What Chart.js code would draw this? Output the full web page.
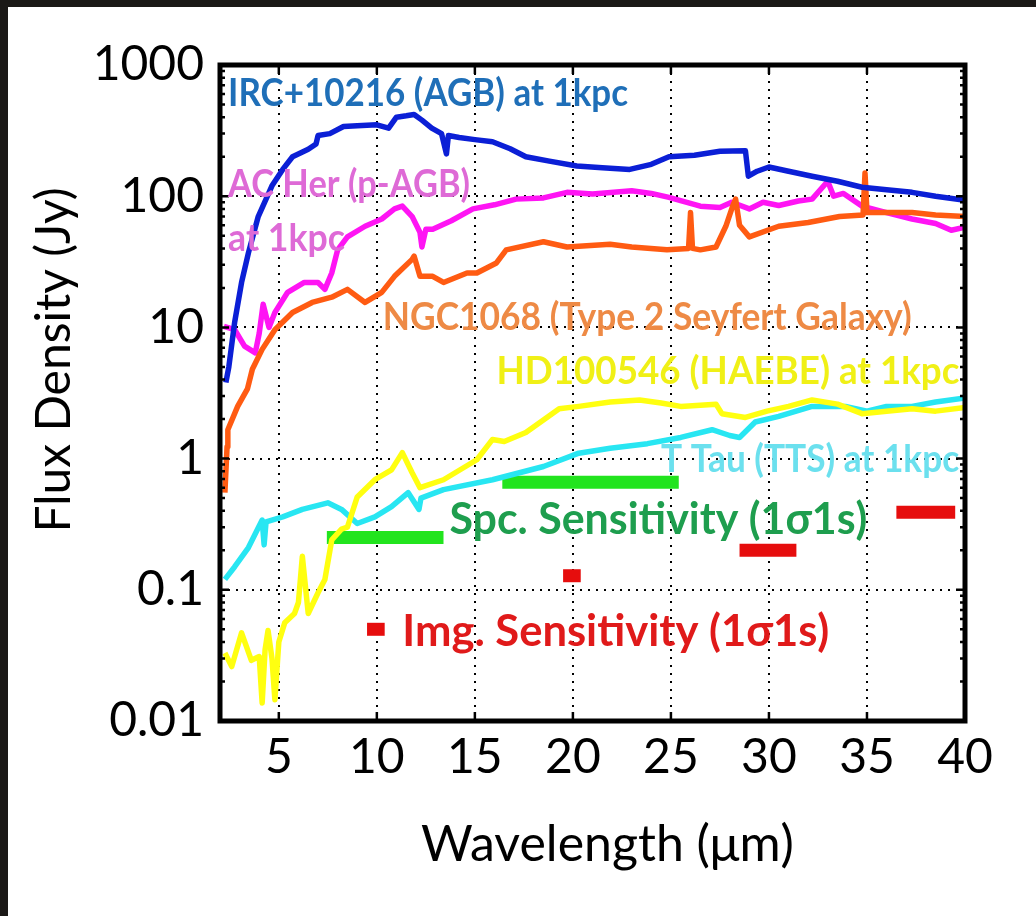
<!DOCTYPE html>
<html lang="en">
<head>
    <meta charset="UTF-8">
    <title>Flux density vs wavelength</title>
    <script src="https://cdn.jsdelivr.net/npm/chart.js"></script>
    <style>
        html, body { margin: 0; padding: 0; background: #ffffff; overflow: hidden; }
        canvas { display: block; }
    </style>
</head>
<body>
    <canvas id="fluxChart" width="1036" height="916"></canvas>

    <script>
        // --- data (wavelength in um, flux in Jy) ---
        const xTicks = [5, 10, 15, 20, 25, 30, 35, 40];
        const yTicks = [0.01, 0.1, 1, 10, 100, 1000];
        const yTickLabels = ['0.01', '0.1', '1', '10', '100', '1000'];

        const ircWave = [2.3, 2.45, 2.75, 3.1, 3.45, 3.95, 4.65, 5.2, 5.7, 6.5, 6.9, 7.0, 7.6, 8.3, 9.0, 10.0, 10.6, 11.0, 11.5, 11.9, 12.3, 12.8, 13.3, 13.55, 13.65, 14.2, 15.0, 15.9, 16.8, 17.6, 18.8, 20.2, 21.5, 22.9, 24.0, 24.9, 26.2, 27.5, 28.8, 28.95, 29.4, 30.0, 31.0, 32.2, 33.5, 34.75, 36.0, 37.3, 38.5, 40];
        const ircFlux = [3.8, 5, 11, 22, 37, 70, 120, 160, 200, 228, 250, 290, 300, 340, 345, 350, 330, 400, 410, 420, 380, 330, 300, 210, 290, 280, 270, 260, 230, 200, 185, 170, 165, 160, 175, 200, 205, 220, 222, 142, 155, 167, 155, 142, 130, 117, 112, 107, 100, 93];

        const acherWave = [2.2, 2.75, 3.25, 3.8, 4.0, 4.2, 4.5, 4.8, 5.45, 6.3, 7.0, 7.35, 7.7, 8.0, 8.5, 9.4, 10.25, 10.9, 11.3, 11.8, 12.2, 12.3, 12.5, 12.85, 13.8, 14.9, 16.0, 17.1, 18.5, 19.7, 21.0, 23.0, 24.0, 24.9, 26.5, 27.5, 28.1, 29.0, 29.7, 30.5, 31.5, 32.2, 33.0, 33.3, 33.8, 34.75, 36.0, 37.3, 38.5, 39.3, 40];
        const acherFlux = [10.2, 9.6, 7.2, 6.4, 9, 15, 10, 13, 18.5, 22, 22, 19.5, 26, 39, 49, 59, 67, 80, 84, 70, 53, 41, 56, 56, 65, 80, 86, 95, 97, 107, 104, 110, 105, 98, 84, 82, 90, 80, 90, 85, 92, 95, 130, 100, 105, 84, 75, 67, 62, 55, 58];

        const ngcWave = [2.25, 2.36, 2.4, 2.9, 3.4, 3.65, 4.15, 4.8, 5.7, 6.7, 7.7, 8.5, 9.4, 10.25, 10.9, 11.8, 11.9, 12.2, 12.85, 13.4, 14.6, 15.1, 16.1, 16.6, 18.5, 19.7, 21.9, 23.0, 24.8, 25.9, 26.0, 26.1, 26.5, 27.3, 27.8, 28.15, 28.3, 28.5, 29.0, 30.5, 32.0, 33.6, 34.8, 34.9, 35.0, 36.0, 37.3, 38.5, 40];
        const ngcFlux = [0.55, 1.23, 1.66, 2.5, 3.4, 4.8, 6.8, 9.6, 13, 15.5, 17, 19.5, 15.5, 18.5, 24.5, 33, 35, 24.5, 24.5, 22, 26, 26, 31, 39, 45, 41, 43, 41, 39, 40, 75, 40, 39, 41, 59, 84, 95, 60, 49, 59, 63, 70, 72, 150, 75, 75, 75, 72, 70];

        const hdWave = [2.25, 2.6, 3.1, 3.6, 4.0, 4.15, 4.3, 4.45, 4.65, 4.8, 5.0, 5.3, 5.8, 6.0, 6.2, 6.5, 7.0, 7.35, 7.7, 8.2, 8.5, 9.0, 9.9, 10.75, 11.3, 11.8, 12.2, 13.4, 15.1, 15.9, 16.5, 17.6, 19.3, 20.3, 21.9, 23.4, 24.5, 25.5, 27.3, 27.6, 28.8, 29.9, 31.0, 32.2, 33.5, 34.75, 36.0, 37.3, 38.5, 40];
        const hdFlux = [0.033, 0.026, 0.047, 0.029, 0.031, 0.0137, 0.035, 0.049, 0.03, 0.0145, 0.04, 0.056, 0.066, 0.08, 0.18, 0.066, 0.095, 0.12, 0.24, 0.29, 0.30, 0.51, 0.69, 0.82, 1.11, 0.78, 0.6, 0.69, 0.98, 1.4, 1.35, 1.58, 2.4, 2.5, 2.7, 2.8, 2.65, 2.5, 2.6, 2.2, 2.06, 2.3, 2.5, 2.8, 2.6, 2.2, 2.3, 2.4, 2.3, 2.45];

        const ttauWave = [2.25, 2.75, 3.45, 4.15, 4.25, 4.35, 5.2, 6.2, 7.5, 8.2, 9.0, 9.9, 10.75, 11.6, 12.15, 12.25, 13.4, 15.9, 18.5, 20.3, 21.9, 23.8, 25.5, 27.1, 28.0, 28.5, 29.3, 30.5, 32.2, 33.9, 35.0, 36.0, 37.3, 38.5, 40];
        const ttauFlux = [0.12, 0.15, 0.21, 0.34, 0.22, 0.33, 0.36, 0.41, 0.46, 0.41, 0.32, 0.36, 0.43, 0.55, 0.41, 0.5, 0.58, 0.69, 0.87, 1.1, 1.2, 1.3, 1.45, 1.66, 1.5, 1.45, 1.9, 2.1, 2.5, 2.5, 2.3, 2.5, 2.5, 2.7, 2.9];

        // sensitivity bars: start / end wavelength and flux level
        const spcStart = [7.45, 16.4];
        const spcEnd = [13.4, 25.4];
        const spcFlux = [0.25, 0.66];
        const imgStart = [9.5, 19.5, 28.5, 36.5];
        const imgEnd = [10.4, 20.4, 31.4, 39.5];
        const imgFlux = [0.05, 0.128, 0.2, 0.39];

        // text labels inside the plot (anchored in data units, left edge / middle)
        const notes = [
            { text: 'IRC+10216 (AGB) at 1kpc', x: 2.41, y: 600, w: 400, color: '#1f6fb8', size: 38 },
            { text: 'AC Her (p-AGB)', x: 2.41, y: 122, w: 242, color: '#de6ad6', size: 38 },
            { text: 'at 1kpc', x: 2.41, y: 47, w: 117, color: '#de6ad6', size: 38 },
            { text: 'NGC1068 (Type 2 Seyfert Galaxy)', x: 10.3, y: 11.9, w: 529, color: '#ee8a45', size: 38 },
            { text: 'HD100546 (HAEBE) at 1kpc', x: 16.1, y: 4.6, w: 463, color: '#f0f016', size: 38 },
            { text: 'T Tau (TTS) at 1kpc', x: 24.5, y: 0.98, w: 298, color: '#6be0ee', size: 38 },
            { text: 'Spc. Sensitivity (1σ1s)', x: 13.7, y: 0.34, w: 418, color: '#1e9e4e', size: 44 },
            { text: 'Img. Sensitivity (1σ1s)', x: 11.3, y: 0.048, w: 427, color: '#e01a1a', size: 44 }
        ];

        function pairs(xs, ys) {
            return xs.map((x, i) => ({ x: x, y: ys[i] }));
        }

        function spectrum(data, color) {
            return {
                data: data,
                borderColor: color,
                borderWidth: 5.5,
                borderJoinStyle: 'round',
                pointRadius: 0,
                tension: 0,
                fill: false
            };
        }

        function bar(x0, x1, y, color) {
            return {
                data: [{ x: x0, y: y }, { x: x1, y: y }],
                borderColor: color,
                borderWidth: 13,
                borderCapStyle: 'butt',
                pointRadius: 0,
                fill: false
            };
        }

        const datasets = [
            spectrum(pairs(ircWave, ircFlux), '#0b1fd6'),
            spectrum(pairs(ngcWave, ngcFlux), '#ff5b12'),
            spectrum(pairs(acherWave, acherFlux), '#ff14f4'),
            spectrum(pairs(hdWave, hdFlux), '#ffff10'),
            spectrum(pairs(ttauWave, ttauFlux), '#28e6f2')
        ];
        spcStart.forEach((s, i) => datasets.push(bar(s, spcEnd[i], spcFlux[i], '#22e41e')));
        imgStart.forEach((s, i) => datasets.push(bar(s, imgEnd[i], imgFlux[i], '#e60d0d')));

        const fontFamily = 'Lato, "Open Sans", sans-serif';

        // white sheet with the dark photo edge along the top and left
        function sheet(ctx, w, h) {
            ctx.fillStyle = '#1b1917';
            ctx.fillRect(0, 0, w, 7);
            ctx.fillRect(0, 0, 8, h);
        }

        const panel = {
            id: 'panel',
            beforeDraw(chart) {
                const ctx = chart.ctx;
                ctx.save();
                ctx.fillStyle = '#ffffff';
                ctx.fillRect(0, 0, chart.width, chart.height);
                sheet(ctx, chart.width, chart.height);
                ctx.restore();
            }
        };

        const frame = {
            id: 'frame',
            afterDatasetsDraw(chart) {
                const ctx = chart.ctx;
                const a = chart.chartArea;
                const xs = chart.scales.x;
                const ys = chart.scales.y;
                ctx.save();
                ctx.strokeStyle = '#000';
                ctx.lineWidth = 2.5;
                ctx.beginPath();
                xTicks.forEach(v => {
                    const px = xs.getPixelForValue(v);
                    ctx.moveTo(px, a.bottom); ctx.lineTo(px, a.bottom - 9);
                    ctx.moveTo(px, a.top); ctx.lineTo(px, a.top + 9);
                });
                yTicks.forEach((v, i) => {
                    const py = ys.getPixelForValue(v);
                    ctx.moveTo(a.left, py); ctx.lineTo(a.left + 9, py);
                    ctx.moveTo(a.right, py); ctx.lineTo(a.right - 9, py);
                    if (i < yTicks.length - 1) {
                        for (let k = 2; k < 10; k++) {
                            const pm = ys.getPixelForValue(v * k);
                            ctx.moveTo(a.left, pm); ctx.lineTo(a.left + 5, pm);
                            ctx.moveTo(a.right, pm); ctx.lineTo(a.right - 5, pm);
                        }
                    }
                });
                ctx.stroke();
                ctx.lineWidth = 5;
                ctx.strokeRect(a.left, a.top, a.right - a.left, a.bottom - a.top);
                ctx.restore();
            },
            afterDraw(chart) {
                const ctx = chart.ctx;
                const a = chart.chartArea;
                const xs = chart.scales.x;
                const ys = chart.scales.y;
                ctx.save();
                // keep the right margin clean white
                ctx.fillStyle = '#ffffff';
                ctx.fillRect(1000, 7, chart.width - 1000, chart.height - 7);

                ctx.textBaseline = 'middle';
                ctx.textAlign = 'left';
                notes.forEach(n => {
                    ctx.font = 'bold ' + n.size + 'px ' + fontFamily;
                    const natural = ctx.measureText(n.text).width;
                    const px = xs.getPixelForValue(n.x);
                    const py = ys.getPixelForValue(n.y);
                    ctx.save();
                    ctx.translate(px, py);
                    ctx.scale(n.w / natural, 1);
                    ctx.fillStyle = n.color;
                    ctx.fillText(n.text, 0, 0);
                    ctx.restore();
                });

                // axis titles, set a little off-centre as in the source figure
                ctx.fillStyle = '#000';
                ctx.textAlign = 'center';
                ctx.font = '50px ' + fontFamily;
                ctx.fillText('Wavelength (μm)', (a.left + a.right) / 2 + 15, 845);
                ctx.save();
                ctx.translate(55, (a.top + a.bottom) / 2 - 33);
                ctx.rotate(-Math.PI / 2);
                ctx.font = '48px ' + fontFamily;
                ctx.fillText('Flux Density (Jy)', 0, 0);
                ctx.restore();
                ctx.restore();
            }
        };

        const tickFont = { family: fontFamily, size: 48 };

        new Chart(document.getElementById('fluxChart'), {
            type: 'line',
            data: { datasets: datasets },
            plugins: [panel, frame],
            options: {
                responsive: false,
                animation: false,
                layout: { padding: { top: 65, right: 71, left: 0, bottom: 0 } },
                plugins: {
                    legend: { display: false },
                    tooltip: { enabled: false }
                },
                scales: {
                    x: {
                        type: 'linear',
                        min: 2,
                        max: 40,
                        afterFit: s => { s.height = 195; },
                        afterBuildTicks: s => { s.ticks = xTicks.map(v => ({ value: v })); },
                        ticks: {
                            color: '#000',
                            font: tickFont,
                            padding: 8,
                            autoSkip: false,
                            maxRotation: 0
                        },
                        grid: { color: '#000', lineWidth: 2, drawTicks: false },
                        border: { display: false, dash: [2, 6] }
                    },
                    y: {
                        type: 'logarithmic',
                        min: 0.01,
                        max: 1000,
                        afterFit: s => { s.width = 220; },
                        afterBuildTicks: s => { s.ticks = yTicks.map(v => ({ value: v })); },
                        ticks: {
                            color: '#000',
                            font: tickFont,
                            padding: 16,
                            autoSkip: false,
                            callback: (v) => yTickLabels[yTicks.indexOf(v)]
                        },
                        grid: { color: '#000', lineWidth: 2, drawTicks: false },
                        border: { display: false, dash: [2, 6] }
                    }
                }
            }
        });
    </script>
</body>
</html>
